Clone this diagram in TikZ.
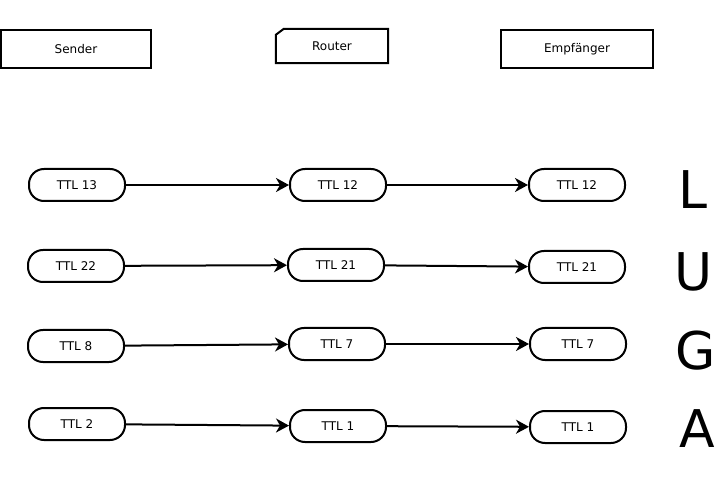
\documentclass[tikz,border=0pt]{standalone}
\usepackage{fontspec}
\setmainfont{DejaVu Sans}
\usetikzlibrary{arrows.meta}
\begin{document}
\begin{tikzpicture}[x=1pt,y=-1pt,
  header/.style={draw,line width=2pt,minimum width=150pt,minimum height=38pt,
    inner sep=0pt,font=\fontsize{12}{14}\selectfont},
  ttl/.style={draw,line width=2pt,rounded corners=15pt,minimum width=96pt,
    minimum height=32pt,inner sep=0pt,font=\fontsize{12}{14}\selectfont},
  hop/.style={line width=2pt,-{Stealth[length=13pt,width=14pt,inset=4pt]}},
  rowletter/.style={font=\fontsize{52}{60}\selectfont,inner sep=0pt}]
\useasboundingbox (0,0) rectangle (716,484);

% column headings
\node[header] (sender) at (76,49) {Sender};
\node[inner sep=0pt,minimum width=112pt,minimum height=34pt,
  font=\fontsize{12}{14}\selectfont] (router) at (332,46) {Router};
\draw[line width=2pt] ([yshift=-6pt]router.north west) -- ([xshift=8pt]router.north west)
  -- (router.north east) -- (router.south east) -- (router.south west) -- cycle;
\node[header,minimum width=152pt] (empf) at (577,49) {Empfänger};

% row L
\node[ttl] (s1) at (77,185) {TTL 13};
\node[ttl] (r1) at (338,185) {TTL 12};
\node[ttl] (e1) at (577,185) {TTL 12};
% row U
\node[ttl] (s2) at (76,266) {TTL 22};
\node[ttl] (r2) at (336,265) {TTL 21};
\node[ttl] (e2) at (577,267) {TTL 21};
% row G
\node[ttl] (s3) at (76,346) {TTL 8};
\node[ttl] (r3) at (337,344) {TTL 7};
\node[ttl] (e3) at (578,344) {TTL 7};
% row A
\node[ttl] (s4) at (77,424) {TTL 2};
\node[ttl] (r4) at (338,426) {TTL 1};
\node[ttl] (e4) at (578,427) {TTL 1};

\foreach \i in {1,...,4}{
  \draw[hop] (s\i) -- (r\i);
  \draw[hop] (r\i) -- (e\i);
}

% row letters
\node[rowletter] (mL) at (693,190) {L};
\node[rowletter] (mU) at (694,272) {U};
\node[rowletter] (mG) at (696,351) {G};
\node[rowletter] (mA) at (697,429) {A};
\end{tikzpicture}
\end{document}
